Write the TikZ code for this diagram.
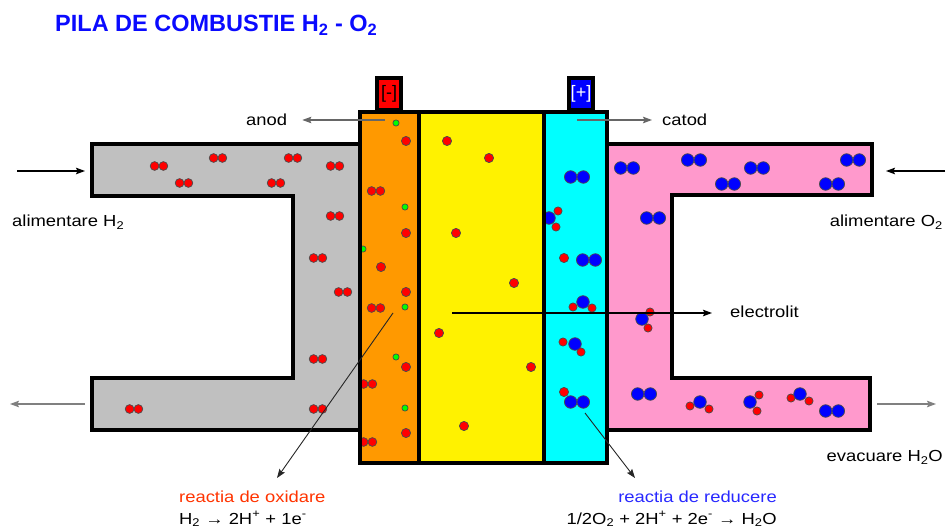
\documentclass[tikz,border=0pt]{standalone}
\usepackage{fontspec}
\setmainfont{Liberation Sans}
\newfontfamily\lblfont{Liberation Sans}[FakeStretch=1.15]
\usetikzlibrary{arrows.meta}

\definecolor{channelgray}{RGB}{192,192,192}
\definecolor{anodeorange}{RGB}{255,153,0}
\definecolor{cathodecyan}{RGB}{0,255,255}
\definecolor{channelpink}{RGB}{255,153,204}
\definecolor{oxred}{RGB}{255,51,0}
\definecolor{redblue}{RGB}{40,40,255}
\definecolor{titleblue}{RGB}{10,10,255}

\begin{document}
\begin{tikzpicture}[x=1pt,y=-1pt]

  \tikzstyle{lbl}=[font=\lblfont\fontsize{16}{18}\selectfont,inner sep=0pt]
  \tikzstyle{wall}=[line width=4pt]
  \tikzstyle{hyd}=[fill=red,draw=black!70,line width=0.7pt]
  \tikzstyle{oxy}=[fill=blue,draw=black!70,line width=0.7pt]
  \tikzstyle{elec}=[fill=green,draw=black!70,line width=0.7pt]
  \tikzstyle{arr}=[-{Stealth[length=9pt,width=6.5pt,inset=1.5pt]},line width=1.1pt]
  \tikzstyle{terminal}=[draw,line width=4pt,minimum width=24pt,minimum height=32pt,inner sep=0pt,font=\fontsize{18}{18}\selectfont]

  \useasboundingbox (0,0) rectangle (946,529);

  \node[anchor=base west,inner sep=0pt,text=titleblue,font=\bfseries\fontsize{23.5}{28}\selectfont] (title) at (55,32) {PILA DE COMBUSTIE H\textsubscript{2} - O\textsubscript{2}};

  % gas channels
  \draw[wall,fill=channelgray] (360,144) -- (92,144) -- (92,196) -- (293,196) -- (293,378) -- (92,378) -- (92,430) -- (360,430);
  \draw[wall,fill=channelpink] (605,144) -- (872,144) -- (872,195) -- (672,195) -- (672,378) -- (870,378) -- (870,430) -- (605,430);

  \node[terminal,fill=red] (minus) at (389,94) {\raisebox{-2pt}{[-]}};
  \node[terminal,fill=blue,text=white] (plus) at (581,94) {\raisebox{-2pt}{[+]}};

  \fill[anodeorange] (360,112) rectangle (419,463);
  \fill[yellow] (419,112) rectangle (544,463);
  \fill[cathodecyan] (544,112) rectangle (607,463);

  % H2 molecules
  \foreach \x/\y in {159/166,218/158,293/158,335/166,184/183,276/183,335/216,318/258,343/292,318/359,134/409,318/409,376/191,376/308,368/384,368/442}
  {
    \draw[hyd] (\x-4.4,\y) circle (4.4pt);
    \draw[hyd] (\x+4.4,\y) circle (4.4pt);
  }

  % H+ ions
  \foreach \x/\y in {406/141,406/233,381/267,406/292,406/367,406/433,447/141,489/158,456/233,514/283,439/333,531/367,464/426,564/258,564/392}
    \draw[hyd] (\x,\y) circle (4.6pt);

  % electrons
  \foreach \x/\y in {396/123,405/207,363/249,405/307,396/357,405/408}
    \draw[elec] (\x,\y) circle (3.1pt);

  % O2 molecules
  \foreach \x/\y in {577/177,589/260,577/402,627/168,694/160,757/168,728/184,853/160,832/184,653/218,644/394,832/411}
  {
    \draw[oxy] (\x-6.3,\y) circle (6.3pt);
    \draw[oxy] (\x+6.3,\y) circle (6.3pt);
  }

  % H2O molecules
  \foreach \ox/\oy/\ax/\ay/\bx/\by in {549/218/558/211/556/227,583/302/573/307/592/308,575/344/563/342/581/352,642/319/650/312/648/328,700/402/690/406/709/409,750/402/759/395/757/411,800/394/791/398/809/401}
  {
    \draw[hyd] (\ax,\ay) circle (4.1pt);
    \draw[hyd] (\bx,\by) circle (4.1pt);
    \draw[oxy] (\ox,\oy) circle (6.3pt);
  }

  \draw[wall] (360,112) rectangle (607,463);
  \draw[wall] (419,112) -- (419,463);
  \draw[wall] (544,112) -- (544,463);

  \node[lbl,anchor=base west] (anod) at (246,126) {anod};
  \node[lbl,anchor=base west] (catod) at (662,126) {catod};
  \node[lbl,anchor=base west] (electrolit) at (730,318) {electrolit};
  \node[lbl,anchor=base west] (alimH) at (12,227) {alimentare H\textsubscript{2}};
  \node[lbl,anchor=base east] (alimO) at (943,227) {alimentare O\textsubscript{2}};
  \node[lbl,anchor=base east] (evac) at (943,462) {evacuare H\textsubscript{2}O};
  \node[lbl,anchor=base west,text=oxred] (oxid) at (179,502) {reactia de oxidare};
  \node[lbl,anchor=base west] (oxeq) at (179,524) {H\textsubscript{2} → 2H\textsuperscript{+} + 1e\textsuperscript{-}};
  \node[lbl,anchor=base east,text=redblue] (reduc) at (777,502) {reactia de reducere};
  \node[lbl,anchor=base east] (redeq) at (777,524) {1/2O\textsubscript{2} + 2H\textsuperscript{+} + 2e\textsuperscript{-} → H\textsubscript{2}O};

  \coordinate (h2in) at (17,171);
  \coordinate (h2inend) at (85,171);
  \coordinate (h2out) at (85,404);
  \coordinate (h2outend) at (10,404);
  \coordinate (o2in) at (945,171);
  \coordinate (o2inend) at (886,171);
  \coordinate (h2oout) at (877,404);
  \coordinate (h2ooutend) at (936,404);
  \coordinate (anodsrc) at (385,120);
  \coordinate (catodsrc) at (577,120);
  \coordinate (elsrc) at (452,313);
  \coordinate (oxsrc) at (393,313);
  \coordinate (oxtip) at (277,478);
  \coordinate (redsrc) at (585,413);
  \coordinate (redtip) at (635,478);

  \draw[arr] (h2in) -- (h2inend);
  \draw[arr,black!50] (h2out) -- (h2outend);
  \draw[arr] (o2in) -- (o2inend);
  \draw[arr,black!50] (h2oout) -- (h2ooutend);
  \draw[arr,black!60,shorten >=15pt] (anodsrc) -- (anodsrc -| anod.east);
  \draw[arr,black!60,shorten >=10pt] (catodsrc) -- (catodsrc -| catod.west);
  \draw[arr,shorten >=18pt] (elsrc) -- (elsrc -| electrolit.west);
  \draw[arr,black!85,line width=0.9pt] (oxsrc) -- (oxtip);
  \draw[arr,black!85,line width=0.9pt] (redsrc) -- (redtip);

  %\draw[step=50,gray,very thin] (0,0) grid (946,529);

\end{tikzpicture}
\end{document}
